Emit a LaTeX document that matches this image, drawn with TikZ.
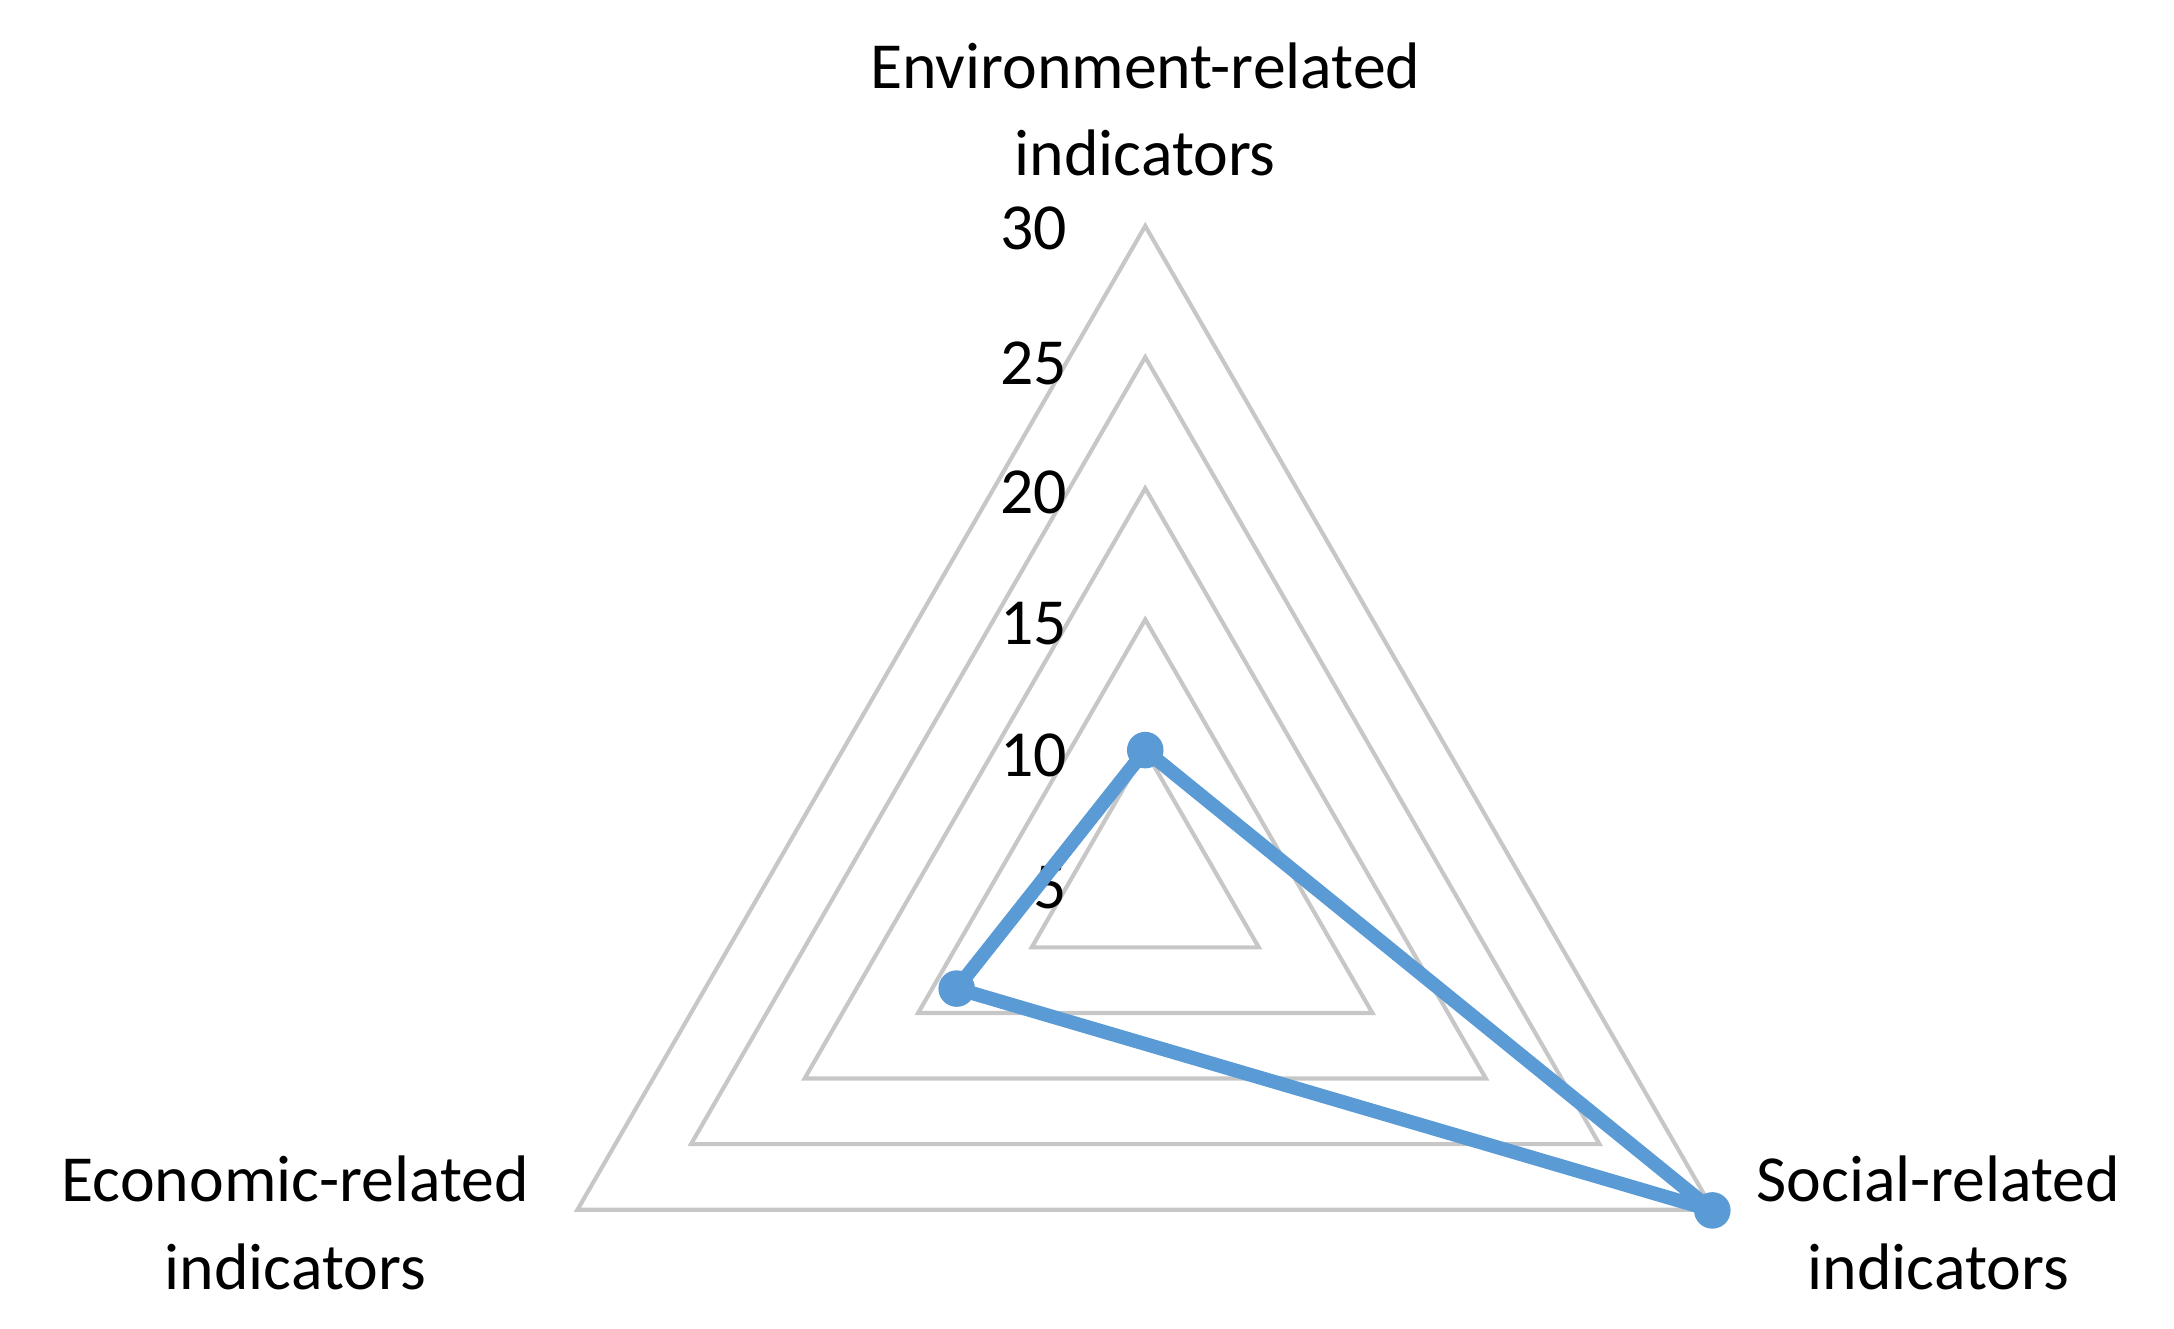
\documentclass[tikz,border=0pt]{standalone}
\usepackage{fontspec}
\setmainfont{Carlito}
\usetikzlibrary{calc}
\begin{document}
\begin{tikzpicture}[x=0.02cm,y=-0.02cm,
  ring/.style={draw=black!22,line width=1.7pt},
  series/.style={draw=blue0,line width=5.7pt,line join=round},
  dot/.style={circle,fill=blue0,inner sep=0pt,minimum size=15pt},
  lab/.style={font=\fontsize{27}{36}\selectfont,align=center},
  num/.style={font=\fontsize{27}{30}\selectfont,anchor=east}]
\definecolor{blue0}{HTML}{5B9BD5}
\useasboundingbox (0,0) rectangle (1568,958);
\coordinate (c) at (826,636);
\foreach \r in {1,2,3,4,5}{
  \draw[ring] ($(c)+(0,-94.6*\r)$) -- ($(c)+(81.9*\r,47.3*\r)$) -- ($(c)+(-81.9*\r,47.3*\r)$) -- cycle;
}
\foreach \v/\y in {5/640,10/545,15/450,20/355,25/262,30/165}
  \node[num] (n\v) at (776,\y) {\v};
\coordinate (e) at (826,541);
\coordinate (s) at (1235,873);
\coordinate (k) at (690,713);
\draw[series] (e) -- (s) -- (k) -- cycle;
\node[dot] (pe) at (e) {};
\node[dot] (ps) at (s) {};
\node[dot] (pk) at (k) {};
\node[lab] (le) at (826,79) {Environment-related\\indicators};
\node[lab] (lk) at (213,882) {Economic-related\\indicators};
\node[lab] (ls) at (1398,882) {Social-related\\indicators};
\end{tikzpicture}
\end{document}
